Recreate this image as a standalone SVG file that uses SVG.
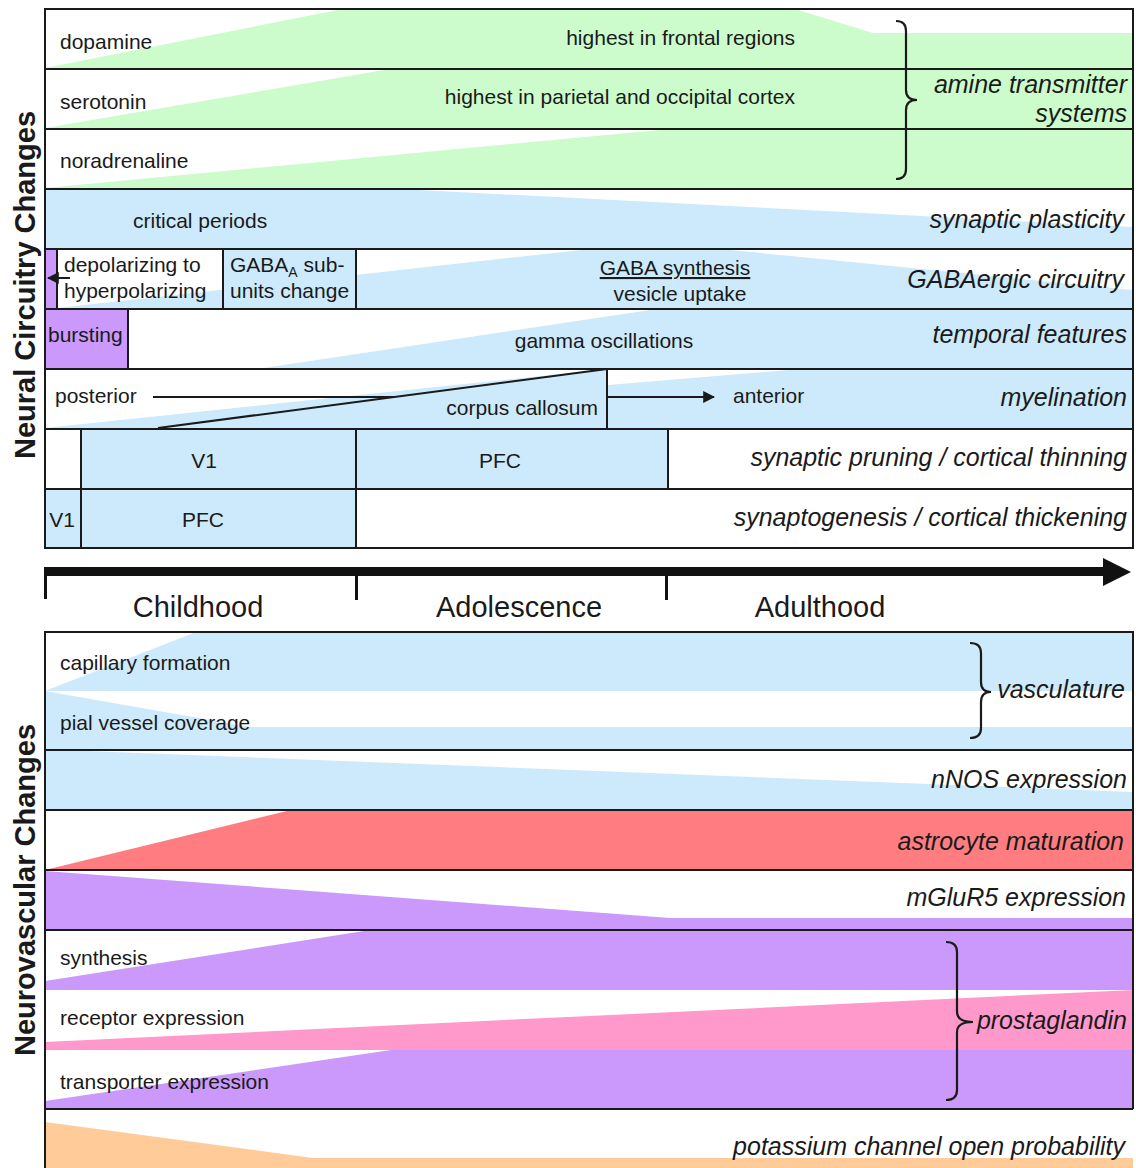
<svg xmlns="http://www.w3.org/2000/svg" width="1136" height="1168" viewBox="0 0 1136 1168">
<defs>
<style>
text{font-family:"Liberation Sans",Arial,sans-serif;fill:#1a1a1a}
.lb{font-size:21px}
.it{font-size:25px;font-style:italic}
.ttl{font-size:29px;font-weight:bold}
.age{font-size:29px}
.ln{stroke:#1a1a1a;stroke-width:2;fill:none}
.br{stroke:#1a1a1a;stroke-width:2.2;fill:none}
.g{fill:#ccfccc}
.b{fill:#cdeafc}
.p{fill:#cb99fb}
.r{fill:#ff7d80}
.k{fill:#ff99cc}
.o{fill:#ffcc99}
</style>
<marker id="ah" viewBox="0 0 10 10" refX="9" refY="5" markerWidth="6" markerHeight="6" orient="auto-start-reverse" markerUnits="strokeWidth">
<path d="M0,0 L10,5 L0,10 z" fill="#1a1a1a"/>
</marker>
</defs>
<rect width="1136" height="1168" fill="#fff"/>

<text class="ttl" text-anchor="middle" transform="translate(35,285) rotate(-90)">Neural Circuitry Changes</text>
<text class="ttl" text-anchor="middle" transform="translate(35,890) rotate(-90)">Neurovascular Changes</text>

<!-- top panel rows -->
<g id="dopamine">
<polygon class="g" points="45,68 343,9 795,9 873,33 1133,33 1133,69 45,69"/>
<text class="lb" x="60" y="49">dopamine</text>
<text class="lb" x="795" y="45" text-anchor="end">highest in frontal regions</text>
</g>
<g id="serotonin">
<polygon class="g" points="45,128 390,69 1133,69 1133,129 45,129"/>
<text class="lb" x="60" y="109">serotonin</text>
<text class="lb" x="795" y="104" text-anchor="end">highest in parietal and occipital cortex</text>
</g>
<g id="noradrenaline">
<polygon class="g" points="45,188 670,129 1133,129 1133,189 45,189"/>
<text class="lb" x="60" y="168">noradrenaline</text>
</g>
<g id="amine">
<path class="br" d="M896,21 Q906,21 906,31 L906,90 Q906,100 917,100 Q906,100 906,110 L906,169 Q906,179 896,179"/>
<text class="it" x="1127" y="93" text-anchor="end">amine transmitter</text>
<text class="it" x="1127" y="122" text-anchor="end">systems</text>
</g>
<g id="synaptic-plasticity">
<polygon class="b" points="45,189 400,189 1133,227 1133,249 45,249"/>
<text class="lb" x="133" y="228">critical periods</text>
<text class="it" x="1124" y="228" text-anchor="end">synaptic plasticity</text>
</g>
<g id="gabaergic">
<polygon class="b" points="57,308 590,249 720,249 1133,290 1133,309 57,309"/>
<rect class="p" x="45" y="249" width="12" height="60"/>
<rect class="b" x="223" y="249" width="133" height="60"/>
<text class="lb" x="64" y="272">depolarizing to</text>
<text class="lb" x="64" y="298">hyperpolarizing</text>
<text class="lb" x="230" y="272">GABA<tspan font-size="14" dy="5">A</tspan><tspan dy="-5"> sub-</tspan></text>
<text class="lb" x="230" y="298">units change</text>
<text class="lb" x="675" y="275" text-anchor="middle" text-decoration="underline">GABA synthesis</text>
<text class="lb" x="680" y="301" text-anchor="middle">vesicle uptake</text>
<text class="it" x="1124" y="288" text-anchor="end">GABAergic circuitry</text>
<line class="ln" x1="57" y1="249" x2="57" y2="309"/>
<line class="ln" x1="223" y1="249" x2="223" y2="309"/>
<line class="ln" x1="356" y1="249" x2="356" y2="309"/>
</g>
<g id="temporal">
<polygon class="b" points="257,369 657,309 1133,309 1133,369"/>
<rect class="p" x="45" y="309" width="83" height="60"/>
<text class="lb" x="48" y="342">bursting</text>
<text class="lb" x="604" y="348" text-anchor="middle">gamma oscillations</text>
<text class="it" x="1127" y="343" text-anchor="end">temporal features</text>
<line class="ln" x1="128" y1="309" x2="128" y2="369"/>
</g>
<g id="myelination">
<polygon class="b" points="45,428 607,369 607,429 45,429"/>
<polygon class="b" points="608,385 800,369 1133,369 1133,429 608,429"/>
<text class="lb" x="55" y="403">posterior</text>
<text class="lb" x="598" y="415" text-anchor="end">corpus callosum</text>
<text class="lb" x="733" y="403">anterior</text>
<text class="it" x="1127" y="406" text-anchor="end">myelination</text>
<line class="ln" x1="607" y1="369" x2="607" y2="429"/>
<line class="ln" x1="158" y1="428" x2="607" y2="369"/>
</g>
<g id="pruning">
<rect class="b" x="81" y="429" width="587" height="60"/>
<text class="lb" x="204" y="468" text-anchor="middle">V1</text>
<text class="lb" x="500" y="468" text-anchor="middle">PFC</text>
<text class="it" x="1127" y="466" text-anchor="end">synaptic pruning / cortical thinning</text>
<line class="ln" x1="81" y1="429" x2="81" y2="489"/>
<line class="ln" x1="356" y1="429" x2="356" y2="489"/>
<line class="ln" x1="668" y1="429" x2="668" y2="489"/>
</g>
<g id="synaptogenesis">
<rect class="b" x="45" y="489" width="311" height="59"/>
<text class="lb" x="62" y="527" text-anchor="middle">V1</text>
<text class="lb" x="203" y="527" text-anchor="middle">PFC</text>
<text class="it" x="1127" y="526" text-anchor="end">synaptogenesis / cortical thickening</text>
<line class="ln" x1="81" y1="489" x2="81" y2="548"/>
<line class="ln" x1="356" y1="489" x2="356" y2="548"/>
</g>
<g id="top-grid">
<rect class="ln" x="45" y="9" width="1088" height="539"/>
<path class="ln" d="M45,69H1133M45,129H1133M45,189H1133M45,249H1133M45,309H1133M45,369H1133M45,429H1133M45,489H1133"/>
</g>

<!-- time axis -->
<g id="time-axis">
<rect x="45" y="567" width="1060" height="9" fill="#111"/>
<polygon points="1103,558 1131,572 1103,586" fill="#111"/>
<rect x="44" y="567" width="3" height="32" fill="#111"/>
<rect x="355" y="574" width="3" height="26" fill="#111"/>
<rect x="665" y="574" width="3" height="26" fill="#111"/>
<text class="age" x="198" y="617" text-anchor="middle">Childhood</text>
<text class="age" x="519" y="617" text-anchor="middle">Adolescence</text>
<text class="age" x="820" y="617" text-anchor="middle">Adulthood</text>
</g>

<!-- bottom panel rows -->
<g id="vasculature">
<polygon class="b" points="45,691 196,632 1133,632 1133,691"/>
<polygon class="b" points="45,691 250,727 1133,727 1133,750 45,750"/>
<text class="lb" x="60" y="670">capillary formation</text>
<text class="lb" x="60" y="730">pial vessel coverage</text>
<path class="br" d="M970,643 Q981,643 981,653 L981,682 Q981,692 991,692 Q981,692 981,702 L981,728 Q981,738 970,738"/>
<text class="it" x="1125" y="698" text-anchor="end">vasculature</text>
</g>
<g id="nnos">
<polygon class="b" points="62,750 1133,792 1133,810 45,810 45,750"/>
<text class="it" x="1127" y="788" text-anchor="end">nNOS expression</text>
</g>
<g id="astrocyte">
<polygon class="r" points="45,870 291,810 1133,810 1133,870"/>
<text class="it" x="1124" y="850" text-anchor="end">astrocyte maturation</text>
</g>
<g id="mglur5">
<polygon class="p" points="45,871 670,918 1133,918 1133,930 45,930"/>
<text class="it" x="1126" y="906" text-anchor="end">mGluR5 expression</text>
</g>
<g id="prostaglandin">
<polygon class="p" points="45,981 364,931 1133,931 1133,990 45,990"/>
<polygon class="k" points="45,1042 1133,990 1133,1050 45,1050"/>
<polygon class="p" points="45,1101 391,1050 1133,1050 1133,1109 45,1109"/>
<text class="lb" x="60" y="965">synthesis</text>
<text class="lb" x="60" y="1025">receptor expression</text>
<text class="lb" x="60" y="1089">transporter expression</text>
<path class="br" d="M946,942 Q957,942 957,952 L957,1012 Q957,1022 973,1022 Q957,1022 957,1032 L957,1090 Q957,1100 946,1100"/>
<text class="it" x="1127" y="1029" text-anchor="end">prostaglandin</text>
</g>
<g id="potassium">
<polygon class="o" points="45,1122 313,1158 1133,1158 1133,1168 45,1168"/>
<text class="it" x="1125" y="1155" text-anchor="end">potassium channel open probability</text>
</g>
<g id="bottom-grid">
<path class="ln" d="M45,1168V632H1133V1109M45,750H1133M45,810H1133M45,870H1133M45,930H1133M45,1109H1133"/>
</g>

<!-- connectors -->
<g id="connectors">
<line class="ln" x1="153" y1="397" x2="394" y2="397" stroke-width="2.5"/>
<line class="ln" x1="608" y1="397" x2="714" y2="397" stroke-width="2.5" marker-end="url(#ah)"/>
<line class="ln" x1="70" y1="278" x2="48" y2="278" marker-end="url(#ah)"/>
</g>
</svg>
